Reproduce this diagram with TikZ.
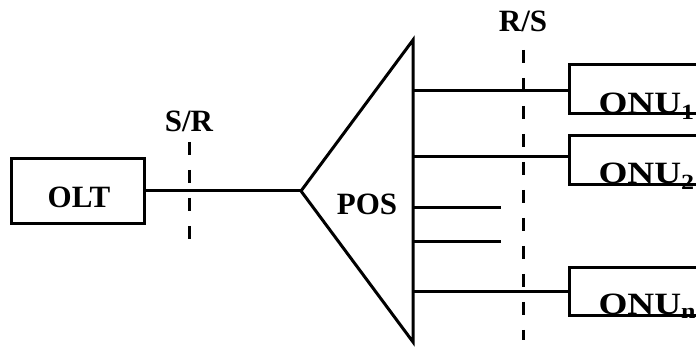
\documentclass[tikz,border=0pt]{standalone}
\usepackage{fontspec}
\usepackage{graphicx}
\setmainfont{Liberation Serif}
\begin{document}
\begin{tikzpicture}[x=1pt,y=1pt,line width=3pt,
  lbl/.style={font=\fontsize{31}{31}\selectfont\bfseries,inner sep=0pt},
  unit/.style={draw,rectangle,inner sep=0pt,line width=3pt},
  cutline/.style={line width=3pt,dash pattern=on 13pt off 15pt},
  wire/.style={line width=3pt}]
\useasboundingbox (0,0) rectangle (696,347);
\clip (0,0) rectangle (696,347);
% OLT
\node[unit,minimum width=133pt,minimum height=65pt] (olt) at (78,156) {};
\node[lbl,anchor=base] (oltt) at (79,139) {OLT};
% splitter
\coordinate (tip) at (301,156);
\coordinate (ptop) at (413,307);
\coordinate (pbot) at (413,5);
\draw[wire,line join=miter] (ptop) -- (tip) -- (pbot) -- cycle;
\node[lbl,anchor=base] (pos) at (367,132) {POS};
\draw[wire] (olt.east) -- (tip);
% ONUs
\node[unit,minimum width=161pt,minimum height=49pt] (onu1) at (649.5,258) {};
\node[unit,minimum width=161pt,minimum height=49pt] (onu2) at (649.5,187) {};
\node[unit,minimum width=161pt,minimum height=48pt] (onun) at (649.5,55.5) {};
\node[lbl,anchor=base west] (t1) at (597,233.5) {\scalebox{1.2}[1]{ONU\textsubscript{1}}};
\node[lbl,anchor=base west] (t2) at (597,163) {\scalebox{1.2}[1]{ONU\textsubscript{2}}};
\node[lbl,anchor=base west] (tn) at (597,32) {\scalebox{1.2}[1]{ONU\textsubscript{n}}};
% branches
\coordinate (b1) at (413,256);
\coordinate (b2) at (413,190);
\coordinate (b3) at (413,139);
\coordinate (b4) at (413,105);
\coordinate (b5) at (413,55);
\coordinate (e3) at (501,139);
\coordinate (e4) at (501,105);
\draw[wire] (b1) -- (onu1.west |- b1);
\draw[wire] (b2) -- (onu2.west |- b2);
\draw[wire] (b3) -- (e3);
\draw[wire] (b4) -- (e4);
\draw[wire] (b5) -- (onun.west |- b5);
% reference points
\node[lbl,anchor=base] (sr) at (189,215) {S/R};
\coordinate (sr1) at (189,205);
\coordinate (sr2) at (189,107);
\draw[cutline] (sr1) -- (sr2);
\node[lbl,anchor=base] (rs) at (523,315) {R/S};
\coordinate (rs1) at (523,297);
\coordinate (rs2) at (523,7);
\draw[cutline] (rs1) -- (rs2);
\end{tikzpicture}
\end{document}
